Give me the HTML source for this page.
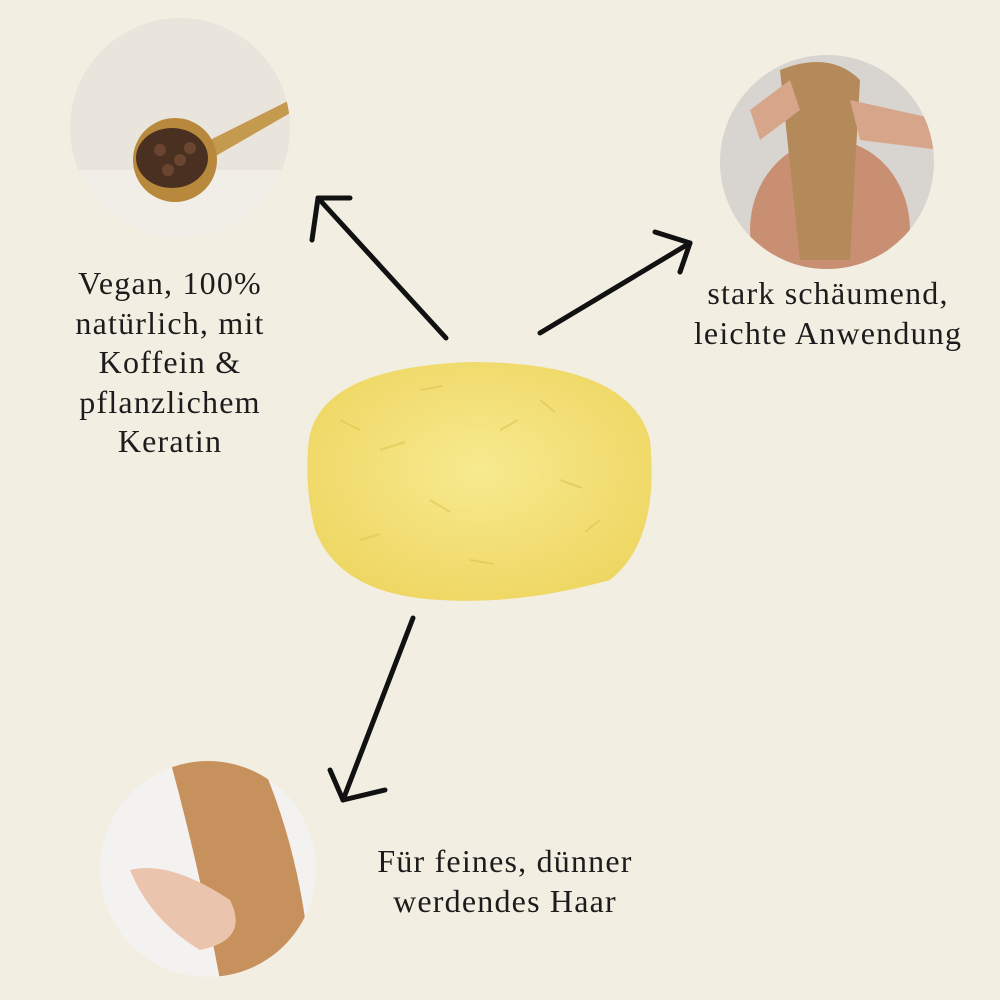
<!DOCTYPE html>
<html><head><meta charset="utf-8"><style>
html,body{margin:0;padding:0;}
body{width:1000px;height:1000px;background:#f3eee2;position:relative;overflow:hidden;font-family:"Liberation Serif",serif;color:#1c1c1c;}
.t{position:absolute;text-align:center;font-size:32px;letter-spacing:1.2px;line-height:39.5px;white-space:nowrap;}
</style></head><body>
<svg width="1000" height="1000" style="position:absolute;left:0;top:0">
<defs>
<clipPath id="c1"><circle cx="180" cy="128" r="110"/></clipPath>
<clipPath id="c2"><circle cx="827" cy="162" r="107"/></clipPath>
<clipPath id="c3"><circle cx="208" cy="869" r="108"/></clipPath>
<radialGradient id="soap" cx="50%" cy="45%" r="60%"><stop offset="0" stop-color="#f7ea8f"/><stop offset="1" stop-color="#eed661"/></radialGradient>
</defs>
<g clip-path="url(#c1)">
<rect x="60" y="10" width="240" height="240" fill="#e9e4dc"/>
<rect x="60" y="170" width="240" height="80" fill="#f1eee8"/>
<path d="M190 150 L290 100 L292 112 L200 165Z" fill="#c49a4e"/>
<ellipse cx="175" cy="160" rx="42" ry="42" fill="#b8893c"/>
<ellipse cx="172" cy="158" rx="36" ry="30" fill="#4a3020"/>
<circle cx="160" cy="150" r="6" fill="#6a4530"/><circle cx="180" cy="160" r="6" fill="#6a4530"/><circle cx="168" cy="170" r="6" fill="#6a4530"/><circle cx="190" cy="148" r="6" fill="#6a4530"/>
</g>
<g clip-path="url(#c2)">
<rect x="710" y="50" width="240" height="230" fill="#d8d4d0"/>
<ellipse cx="830" cy="230" rx="80" ry="90" fill="#c98f72"/>
<path d="M780 70 Q830 50 860 80 L850 260 L800 260Z" fill="#b58a5a"/>
<path d="M850 100 L940 120 L940 150 L860 140Z" fill="#d7a68a"/>
<path d="M750 110 L790 80 L800 110 L760 140Z" fill="#d7a68a"/>
</g>
<g clip-path="url(#c3)">
<rect x="90" y="750" width="240" height="240" fill="#f4f2f0"/>
<path d="M170 760 L260 760 Q300 850 310 960 L220 980 Q200 870 170 760Z" fill="#c6915c"/>
<path d="M130 870 Q170 860 230 900 Q250 940 200 950 Q150 920 130 870Z" fill="#ebc4ad"/>
</g>
<path d="M308 450 Q310 368 470 362 Q630 362 650 440 Q660 540 610 580 Q520 605 440 600 Q340 595 315 530 Q305 490 308 450Z" fill="url(#soap)"/>
<g stroke="#e0c550" stroke-width="2" fill="none" opacity="0.6">
<path d="M340 420 l20 10 M380 450 l25 -8 M430 500 l20 12 M500 430 l18 -10 M560 480 l22 8 M600 520 l-15 12 M360 540 l20 -6 M470 560 l24 4 M540 400 l15 12 M420 390 l22 -4"/>
</g>
<g stroke="#111" stroke-width="5" fill="none" stroke-linecap="round">
<path d="M446 338 L318 198"/><path d="M318 198 L350 198"/><path d="M318 198 L312 240"/>
<path d="M540 333 L690 243"/><path d="M690 243 L655 232"/><path d="M690 243 L680 272"/>
<path d="M413 618 L343 800"/><path d="M343 800 L330 770"/><path d="M343 800 L385 790"/>
</g>
</svg>
<div class="t" style="left:20px;width:300px;top:264px">Vegan, 100%<br>natürlich, mit<br>Koffein &amp;<br>pflanzlichem<br>Keratin</div>
<div class="t" style="left:660px;width:336px;top:274px">stark schäumend,<br>leichte Anwendung</div>
<div class="t" style="left:335px;width:340px;top:842px">Für feines, dünner<br>werdendes Haar</div>
</body></html>
